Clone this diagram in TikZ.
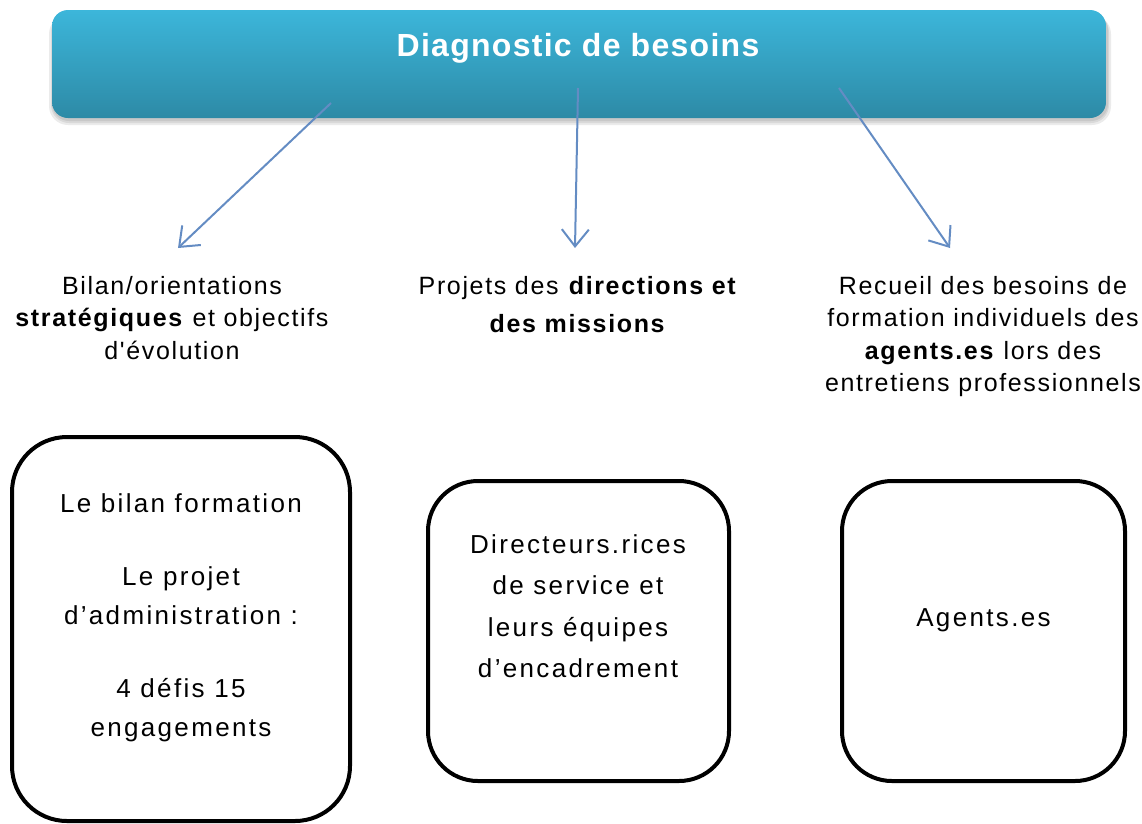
\documentclass[tikz,border=0pt]{standalone}
\usepackage{fontspec}
\setmainfont{Liberation Sans}
\newfontfamily\labfont{Liberation Sans}[LetterSpace=6.6,Ligatures=TeXOff]
\newfontfamily\boxfont{Liberation Sans}[LetterSpace=9,Ligatures=TeXOff]
\newfontfamily\titfont{Liberation Sans}[LetterSpace=4,Ligatures=TeXOff]
\usetikzlibrary{arrows.meta}
\definecolor{titletop}{RGB}{60,182,218}
\definecolor{titlebot}{RGB}{45,138,166}
\definecolor{arrowblue}{RGB}{100,140,195}
\begin{document}
\begin{tikzpicture}[x=1pt,y=-1pt,
  lab/.style={font=\labfont\fontsize{25}{32.5}\selectfont, align=center, inner sep=0pt, anchor=north},
  boxtxt/.style={font=\boxfont\fontsize{26}{38.5}\selectfont, align=center, inner sep=0pt, anchor=north},
  card/.style={draw=black, line width=4pt, rounded corners=50pt, inner sep=0pt},
  arr/.style={draw=arrowblue, line width=2pt, -{Straight Barb[length=17pt,width=27pt]}},
  shadowlayer/.style={fill=black, opacity=0.08}
]
\useasboundingbox (0,0) rectangle (1142,823);
% title shadow
\fill[shadowlayer, rounded corners=19pt] (49,15) rectangle (1111,125);
\fill[shadowlayer, rounded corners=18pt] (51,14) rectangle (1109,123);
\fill[shadowlayer, rounded corners=17pt] (52,13) rectangle (1108,121);
% title box
\node[rounded corners=16pt, top color=titletop, bottom color=titlebot, minimum width=1054pt, minimum height=108pt, inner sep=0pt] (T) at (579,64) {};
\node[font=\titfont\bfseries\fontsize{32}{38}\selectfont, text=white, anchor=base, inner sep=0pt] (Tt) at (578,56) {Diagnostic de besoins};
% arrows
\coordinate (s1) at (331,103);
\coordinate (e1) at (178,248);
\coordinate (s2) at (578,88);
\coordinate (e2) at (575,248);
\coordinate (s3) at (839,88);
\coordinate (e3) at (950,248);
\draw[arr] (s1) -- (e1);
\draw[arr] (s2) -- (e2);
\draw[arr] (s3) -- (e3);
% labels
\node[lab] (L1) at (172,276) {Bilan/orientations\\\textbf{stratégiques} et objectifs\\d'évolution};
\node[lab, font=\labfont\fontsize{25}{38}\selectfont] (L2) at (578,276) {Projets des \textbf{directions et}\\\textbf{des missions}};
\node[lab] (L3) at (983,276) {Recueil des besoins de\\formation individuels des\\\textbf{agents.es} lors des\\entretiens professionnels};
% cards
\node[card, minimum width=338pt, minimum height=384pt, rounded corners=55pt] (b1) at (181,629) {};
\node[card, minimum width=301pt, minimum height=300pt] (b2) at (578.5,631) {};
\node[card, minimum width=283pt, minimum height=300pt] (b3) at (983.5,631) {};
\node[boxtxt] (t1) at (181,493) {Le bilan formation\\[35pt]Le projet\\d’administration :\\[35pt]4 défis 15\\engagements};
\node[boxtxt, font=\boxfont\fontsize{26}{41.5}\selectfont] (t2) at (578,534) {Directeurs.rices\\de service et\\leurs équipes\\d’encadrement};
\node[boxtxt, anchor=base] (t3) at (983.5,626) {Agents.es};
\end{tikzpicture}
\end{document}
